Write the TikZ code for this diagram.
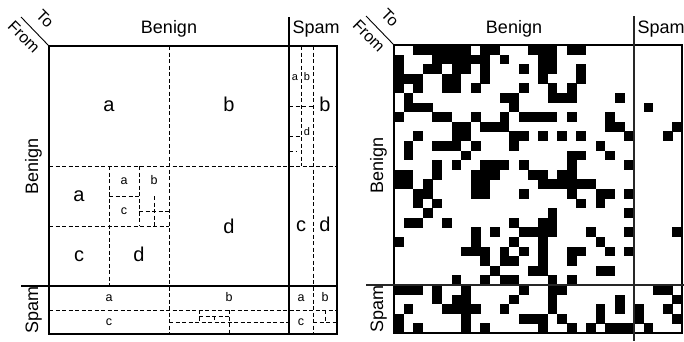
\documentclass[tikz,border=0pt]{standalone}
\usepackage{fontspec}
\setmainfont{Liberation Sans}
\begin{document}
\begin{tikzpicture}[x=1pt,y=-1pt,
  thk/.style={line width=1.8pt},
  sep/.style={line width=1.8pt, line cap=butt},
  dsh/.style={line width=0.8pt, dash pattern=on 4pt off 2.5pt},
  thin/.style={line width=0.9pt},
  hdr/.style={font=\fontsize{18}{20}\selectfont, inner sep=0pt},
  diagtxt/.style={font=\fontsize{16}{18}\selectfont, inner sep=0pt, rotate=-45},
  big/.style={font=\fontsize{20}{22}\selectfont, inner sep=0pt, text height=10.4pt, text depth=0pt},
  sml/.style={font=\fontsize{12.5}{14}\selectfont, inner sep=0pt, text height=6.5pt, text depth=0pt},
  tny/.style={font=\fontsize{11}{12}\selectfont, inner sep=0pt, text height=5.7pt, text depth=0pt}
]
\useasboundingbox (0,0) rectangle (684,341);

% ================= LEFT MATRIX =================
% dashed partition lines
\draw[dsh] (169,46) -- (169,334);
\draw[dsh] (49,166) -- (337,166);
\draw[dsh] (109,166) -- (109,286);
\draw[dsh] (49,226) -- (169,226);
\draw[dsh] (139,166) -- (139,226);
\draw[dsh] (109,196) -- (139,196);
\draw[dsh] (154,196) -- (154,226);
\draw[dsh] (139,211) -- (169,211);
\draw[dsh] (313,46) -- (313,334);
\draw[dsh] (301,46) -- (301,166);
\draw[dsh] (289,106) -- (313,106);
\draw[dsh] (289,136) -- (301,136);
\draw[dsh] (289,151) -- (296,151);
\draw[dsh] (49,310) -- (337,310);
\draw[dsh] (229,310) -- (229,334);
\draw[dsh] (169,322) -- (289,322);
\draw[dsh] (199,310) -- (199,322);
\draw[dsh] (214,316) -- (214,322);
\draw[dsh] (199,316) -- (229,316);
\draw[dsh] (313,322) -- (337,322);
\draw[dsh] (325,310) -- (325,322);

% frame
\draw[thk] (49,46) rectangle (337,334);
\draw[sep] (289,17) -- (289,334);
\draw[sep] (21,286) -- (337,286);
\draw[thin] (21,17) -- (49,46);

% headers
\node[hdr, anchor=base] (lhb) at (169,33) {Benign};
\node[hdr, anchor=base west] (lhs) at (292.5,33) {Spam};
\node[hdr, anchor=base, rotate=90] (lvb) at (38,166) {Benign};
\node[hdr, anchor=base, rotate=90] (lvs) at (38,310) {Spam};
\node[diagtxt] (lto) at (45,19) {To};
\node[diagtxt] (lfrom) at (24,37) {From};

% labels
\node[big] (l1) at (109,106) {a};
\node[big] (l2) at (229,106) {b};
\node[big] (l3) at (229,228) {d};
\node[big] (l4) at (79,196) {a};
\node[big] (l5) at (79,256) {c};
\node[big] (l6) at (139,256) {d};
\node[sml] (l7) at (124,181) {a};
\node[sml] (l8) at (154,181) {b};
\node[sml] (l9) at (124,211) {c};
\node[big] (l10) at (325,106) {b};
\node[big] (l11) at (301,226) {c};
\node[big] (l12) at (325,226) {d};
\node[tny] (l13) at (295,78) {a};
\node[tny] (l14) at (307,78) {b};
\node[tny] (l15) at (307,133) {d};
\node[sml] (l16) at (109,298) {a};
\node[sml] (l17) at (229,298) {b};
\node[sml] (l18) at (109,322) {c};
\node[sml] (l19) at (301,298) {a};
\node[sml] (l20) at (325,298) {b};
\node[sml] (l21) at (301,322) {c};

% ================= RIGHT MATRIX =================
\foreach \r/\cs in {
 0/{2,3,4,5,6,7,9,10,14,15,16,18,19},
 1/{0,4,5,6,7,8,9,11,15,16},
 2/{0,3,4,6,7,9,13,15,16,19},
 3/{0,1,2,5,6,9,15,19},
 4/{0,2,5,6,8,13,16,18},
 5/{1,11,12,16,17,18,23},
 6/{1,2,3,12,26},
 7/{0,4,5,8,11,13,14,15,16,18,22},
 8/{6,7,9,10,11,22,23,29},
 9/{2,6,7,12,13,15,17,19,24,28},
 10/{1,4,5,6,8,12,21},
 11/{1,7,18,19,22},
 12/{4,6,9,10,11,13,18,24},
 13/{0,1,4,8,9,10,14,15,17,18},
 14/{0,1,3,8,9,15,16,17,18,19,20},
 15/{2,3,8,9,13,18,21,22,24},
 16/{2,4,19,21},
 17/{3,16,24},
 18/{1,2,5,12,15,16},
 19/{8,10,13,14,15,16,20,24,29},
 20/{0,8,12,15,21},
 21/{7,8,9,11,13,15,18,19,22,24},
 22/{9,11,12,15,18},
 23/{10,14,15,21,22},
 24/{6,9,11,12,16,18},
 25/{0,1,2,4,7,13,16,17,27,28},
 26/{4,6,7,12,16,23,29},
 27/{1,5,6,7,8,11,16,21,23,25,28},
 28/{0,7,13,14,15,17,21,25,29},
 29/{0,2,7,9,15,18,20,22,23,24,26}} {
  \foreach \c in \cs {
    \fill[black] (394+9.6*\c-0.1, 45+9.6*\r-0.1) rectangle ++(9.8,9.8);
  }
}

\draw[thk] (394,45) rectangle (682,333);
\draw[sep, black!85] (634,16) -- (634,341);
\draw[sep, black!85] (366,285) -- (684,285);
\draw[thin] (366,16) -- (394,45);

\node[hdr, anchor=base] (rhb) at (514,33) {Benign};
\node[hdr, anchor=base west] (rhs) at (637.5,33) {Spam};
\node[hdr, anchor=base, rotate=90] (rvb) at (383,165) {Benign};
\node[hdr, anchor=base, rotate=90] (rvs) at (383,309) {Spam};
\node[diagtxt] (rto) at (390,18) {To};
\node[diagtxt] (rfrom) at (369,36) {From};
\end{tikzpicture}
\end{document}
